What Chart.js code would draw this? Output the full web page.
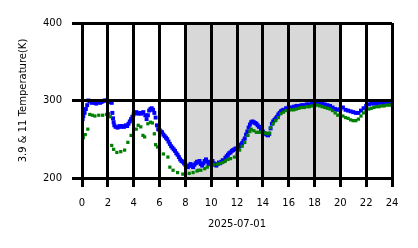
<!DOCTYPE html>
<html>
<head>
<meta charset="utf-8">
<script src="https://cdn.jsdelivr.net/npm/chart.js@4/dist/chart.umd.min.js"></script>
<style>
html,body{margin:0;padding:0;background:#fff;}
#wrap{width:418px;height:248px;}
</style>
</head>
<body>
<div id="wrap"><canvas id="c" width="418" height="248"></canvas></div>
<script>
const xTickLabels = ['0','2','4','6','8','10','12','14','16','18','20','22','24'];
const yTickValues = [200, 300, 400];
const xTitle = '2025-07-01';
const yTitle = '3.9 & 11 Temperature(K)';
const shadeStart = 8, shadeEnd = 20;

const blueHours = [0.0,0.05,0.1,0.2,0.3,0.4,0.5,0.6,0.75,0.9,1.0,1.1,1.25,1.4,1.5,1.6,1.75,1.9,2.0,2.1,2.2,2.3,
2.35,2.4,2.45,2.5,2.6,2.75,2.9,3.0,3.1,3.25,3.4,3.5,3.6,3.7,3.8,3.9,4.0,4.1,4.2,4.35,4.5,4.6,4.75,4.9,
5.0,5.1,5.2,5.3,5.4,5.5,5.6,5.7,5.8,5.9,6.0,6.1,6.2,6.3,6.4,6.5,6.6,6.7,6.8,6.9,7.0,7.1,7.2,7.3,7.4,7.5,7.6,7.7,7.8,7.9,
8.0,8.1,8.2,8.3,8.4,8.5,8.6,8.7,8.8,8.9,9.0,9.1,9.2,9.3,9.4,9.5,9.6,9.7,9.8,9.9,10.0,10.1,10.2,10.3,10.4,10.5,10.6,10.7,10.8,10.9,
11.0,11.1,11.2,11.3,11.4,11.5,11.6,11.7,11.8,11.9,12.0,12.1,12.2,12.3,12.4,12.5,12.6,12.7,12.8,12.9,13.0,13.1,13.2,13.3,13.4,13.5,13.6,13.7,13.85,
14.0,14.1,14.2,14.3,14.4,14.5,14.6,14.7,14.8,14.9,15.0,15.1,15.2,15.3,15.4,15.5,15.6,15.8,16.0,16.2,16.4,16.6,16.8,17.0,17.2,17.4,17.6,17.8,
18.0,18.2,18.4,18.6,18.8,19.0,19.2,19.4,19.6,19.8,20.0,20.2,20.4,20.6,20.8,21.0,21.2,21.4,21.6,21.8,22.0,22.2,22.4,22.6,22.8,23.0,23.2,23.4,23.6,23.8,24.0];
const blueTemps = [272,276,280,284,289,294,300,299,297,298,297,296,298,297,298,299,300,300,299,298,299,297,
284,277,272,268,266,265,267,266,267,266,268,267,270,273,276,279,282,284,285,283,284,283,285,281,
276,281,287,289,290,288,284,278,268,263,262,260,259,256,254,252,250,247,244,241,239,237,235,232,230,227,224,222,221,219,
217,215,214,216,218,216,214,217,219,221,220,222,218,216,219,222,224,221,218,220,221,222,219,217,216,218,220,219,221,223,
222,226,228,230,232,233,235,236,237,238,238,240,241,243,245,248,251,256,260,265,269,272,273,272,271,270,268,266,263,
260,258,257,256,255,257,264,270,273,275,277,279,282,284,286,287,288,290,291,291,292,293,293,294,294,295,295,296,
296,297,297,296,295,294,293,291,289,288,289,291,288,287,286,285,284,284,287,290,293,295,296,296,296,297,297,297,298,298,298];

const greenHours = [0.0,0.1,0.25,0.45,0.6,0.8,1.0,1.3,1.6,1.9,2.05,2.2,2.3,2.45,2.7,3.0,3.3,3.55,3.8,4.2,4.35,4.55,4.72,4.85,
5.1,5.3,5.45,5.6,5.7,5.85,6.0,6.3,6.65,6.8,7.05,7.4,7.8,
8.0,8.3,8.6,8.9,9.0,9.2,9.5,9.7,10.0,10.2,10.5,10.7,10.9,11.1,11.3,11.5,11.8,12.0,12.2,12.4,12.6,12.85,13.0,13.1,13.3,13.5,13.7,13.85,
14.0,14.2,14.4,14.5,14.6,14.8,15.0,15.2,15.4,15.6,15.8,16.0,16.2,16.4,16.6,16.8,17.0,17.2,17.4,17.6,17.8,18.0,18.2,18.4,18.6,18.8,
19.0,19.2,19.4,19.6,19.8,20.0,20.2,20.4,20.6,20.8,21.0,21.2,21.4,21.6,21.8,22.0,22.2,22.4,22.6,22.8,23.0,23.2,23.4,23.6,23.8,24.0];
const greenTemps = [243,252,256,263,282,281,280,281,281,282,283,279,242,237,233,234,236,246,255,263,268,266,255,253,
270,272,271,257,243,240,236,231,227,214,210,207,205,
205,206,207,209,210,210,212,214,216,217,218,219,220,222,224,225,227,231,236,241,246,255,260,263,261,259,259,259,
259,258,257,258,265,270,274,278,283,285,287,287,288,288,289,290,291,291,292,292,293,293,294,293,292,291,
290,289,287,284,281,282,280,278,277,275,274,274,276,280,284,287,289,290,291,292,292,293,293,294,294,295];

const toPts = (hs, vs) => hs.map((h, i) => ({x: h, y: vs[i]}));

const shadePlugin = {
  id: 'shade',
  beforeDatasetsDraw(chart) {
    const {ctx, chartArea, scales} = chart;
    const x0 = scales.x.getPixelForValue(shadeStart);
    const x1 = scales.x.getPixelForValue(shadeEnd);
    ctx.save();
    ctx.fillStyle = '#d8d8d8';
    ctx.fillRect(x0, chartArea.top, x1 - x0, chartArea.bottom - chartArea.top);
    ctx.restore();
  }
};

Chart.defaults.font.family = '"DejaVu Sans", sans-serif';
Chart.defaults.font.size = 10;
Chart.defaults.color = '#000';

new Chart(document.getElementById('c'), {
  type: 'scatter',
  data: {
    datasets: [
      {label: '3.9', data: toPts(blueHours, blueTemps), backgroundColor: '#0000ff', borderColor: '#0000ff', borderWidth: 0, pointStyle: 'rect', pointRadius: 2.8, order: 2},
      {label: '11', data: toPts(greenHours, greenTemps), backgroundColor: '#008000', borderColor: '#008000', borderWidth: 0, pointStyle: 'rect', pointRadius: 2.3, order: 1}
    ]
  },
  options: {
    responsive: false,
    animation: false,
    events: [],
    layout: {padding: {top: 23, right: 26, left: 0, bottom: 0}},
    plugins: {legend: {display: false}, tooltip: {enabled: false}},
    scales: {
      x: {
        type: 'linear', min: 0, max: 24,
        afterFit(s) { s.height = 70; },
        afterBuildTicks(s) { s.ticks = xTickLabels.map(v => ({value: Number(v)})); },
        ticks: {autoSkip: false, maxRotation: 0, padding: 10, callback: (v) => String(v)},
        grid: {color: '#000', lineWidth: 3, tickLength: 9, z: 1},
        border: {display: false},
        title: {display: true, text: xTitle, padding: {top: 0, bottom: 18}}
      },
      y: {
        min: 200, max: 400,
        afterFit(s) { s.width = 82; },
        afterBuildTicks(s) { s.ticks = yTickValues.map(v => ({value: v})); },
        ticks: {padding: 10},
        grid: {color: '#000', lineWidth: 3, tickLength: 10, z: 1},
        border: {display: false},
        title: {display: true, text: yTitle, padding: {top: 17, bottom: 0}}
      }
    }
  },
  plugins: [shadePlugin]
});
</script>
</body>
</html>
